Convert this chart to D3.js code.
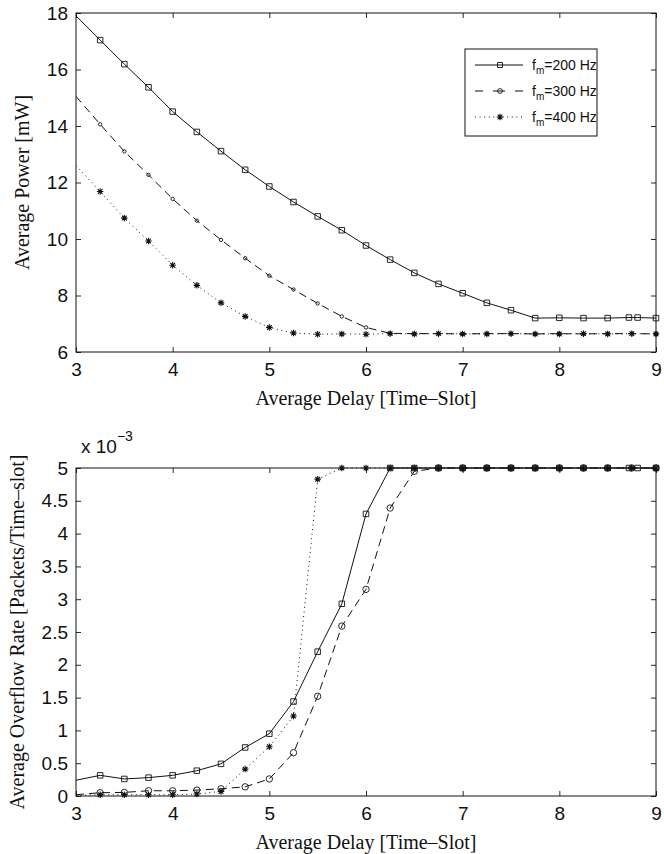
<!DOCTYPE html>
<html>
<head>
<meta charset="utf-8">
<script src="https://cdn.jsdelivr.net/npm/d3@7"></script>
<style>
  html, body { margin: 0; padding: 0; background: #fff; }
  svg { display: block; }
</style>
</head>
<body>
<svg id="fig" width="664" height="854"></svg>
<script>
// ---- data -------------------------------------------------------------
// average delay [time-slot] sample points
const delay = [3, 3.25, 3.5, 3.75, 4, 4.25, 4.5, 4.75, 5, 5.25, 5.5, 5.75, 6,
               6.25, 6.5, 6.75, 7, 7.25, 7.5, 7.75, 8, 8.25, 8.5, 8.75, 9];
// the f_m = 200 Hz run has two extra samples near the right end
const delay200 = [3, 3.25, 3.5, 3.75, 4, 4.25, 4.5, 4.75, 5, 5.25, 5.5, 5.75, 6,
                  6.25, 6.5, 6.75, 7, 7.25, 7.5, 7.75, 8, 8.25, 8.5, 8.72, 8.81, 9];

// average power [mW]
const power200 = [17.9, 17.04, 16.19, 15.37, 14.51, 13.79, 13.11, 12.45, 11.86, 11.31,
                  10.8, 10.31, 9.77, 9.27, 8.8, 8.41, 8.08, 7.74, 7.48, 7.2, 7.21, 7.2,
                  7.2, 7.22, 7.22, 7.2];
const power300 = [15.05, 14.06, 13.1, 12.27, 11.42, 10.65, 9.97, 9.32, 8.7, 8.21,
                  7.72, 7.26, 6.87, 6.66, 6.65, 6.65, 6.64, 6.65, 6.65, 6.64, 6.65,
                  6.64, 6.65, 6.65, 6.64];
const power400 = [12.6, 11.68, 10.74, 9.93, 9.07, 8.36, 7.74, 7.26, 6.87, 6.67,
                  6.63, 6.64, 6.63, 6.65, 6.64, 6.65, 6.64, 6.64, 6.65, 6.64, 6.64,
                  6.65, 6.64, 6.65, 6.64];

// average overflow rate [packets/time-slot], in units of 1e-3
const rate200 = [0.24, 0.315, 0.26, 0.28, 0.315, 0.386, 0.49, 0.74, 0.95, 1.44,
                 2.2, 2.93, 4.3, 5, 5, 5, 5, 5, 5, 5, 5, 5, 5, 5, 5, 5];
const rate300 = [0.02, 0.05, 0.055, 0.08, 0.08, 0.09, 0.11, 0.14, 0.26, 0.66,
                 1.52, 2.59, 3.15, 4.39, 4.95, 5, 5, 5, 5, 5, 5, 5, 5, 5, 5];
const rate400 = [0.01, 0.02, 0.02, 0.02, 0.02, 0.03, 0.07, 0.41, 0.75, 1.22,
                 4.83, 5, 5, 5, 5, 5, 5, 5, 5, 5, 5, 5, 5, 5, 5];

// tick labels
const delayTicks = [3, 4, 5, 6, 7, 8, 9];
const powerTicks = [6, 8, 10, 12, 14, 16, 18];
const rateTicks = [0, 0.5, 1, 1.5, 2, 2.5, 3, 3.5, 4, 4.5, 5];
const rateTickLabels = ["0", "0.5", "1", "1.5", "2", "2.5", "3", "3.5", "4", "4.5", "5"];

// legend: modulation frequencies f_m
const freqLabels = ["200 Hz", "300 Hz", "400 Hz"];

// ---- styling ----------------------------------------------------------
const SANS = "'Liberation Sans', Arial, Helvetica, sans-serif";
const SERIF = "'Liberation Serif', 'Times New Roman', serif";
const INK = "#111";
const TICK_FONT = 19;

const seriesStyle = [
  { dash: null,    marker: "square" },
  { dash: "8,5",   marker: "circle" },
  { dash: "1,3.6", marker: "star" }
];

const svg = d3.select("#fig");

// marker path generators (open markers, centred at origin)
function markerPath(kind, size) {
  if (kind === "square") {
    const h = size / 2;
    return `M${-h},${-h}H${h}V${h}H${-h}Z`;
  }
  if (kind === "star") {
    const r = size / 2, d = r * 0.72;
    return `M${-r},0H${r}M0,${-r}V${r}M${-d},${-d}L${d},${d}M${-d},${d}L${d},${-d}`;
  }
  return null;
}

function drawMarker(sel, kind, size) {
  if (kind === "circle") {
    sel.append("circle").attr("r", size / 2)
      .attr("fill", "none").attr("stroke", INK).attr("stroke-width", 0.9);
  } else {
    sel.append("path").attr("d", markerPath(kind, size))
      .attr("fill", "none").attr("stroke", INK)
      .attr("stroke-width", kind === "star" ? 1.1 : 0.9);
  }
}

// ---- one panel --------------------------------------------------------
function panel(cfg) {
  const { top, bottom, left, right } = cfg.box;
  const x = d3.scaleLinear().domain([3, 9]).range([left, right]);
  const y = d3.scaleLinear().domain(cfg.yDomain).range([bottom, top]);
  const g = svg.append("g");

  const clipId = cfg.id + "-clip";
  svg.append("defs").append("clipPath").attr("id", clipId)
    .append("rect").attr("x", left).attr("y", top - 1)
    .attr("width", right - left).attr("height", bottom - top + 2);

  // axes: inward ticks on all four sides
  const tl = 5;
  const axB = g.append("g").attr("transform", `translate(0,${bottom})`)
    .call(d3.axisBottom(x).tickValues(delayTicks).tickSize(-tl).tickPadding(11)
      .tickFormat(d3.format("d")));
  const axT = g.append("g").attr("transform", `translate(0,${top})`)
    .call(d3.axisTop(x).tickValues(delayTicks).tickSize(-tl).tickFormat(""));
  const axL = g.append("g").attr("transform", `translate(${left},0)`)
    .call(d3.axisLeft(y).tickValues(cfg.yTicks).tickSize(-tl).tickPadding(8)
      .tickFormat((d, i) => cfg.yTickLabels ? cfg.yTickLabels[i] : d));
  const axR = g.append("g").attr("transform", `translate(${right},0)`)
    .call(d3.axisRight(y).tickValues(cfg.yTicks).tickSize(-tl).tickFormat(""));

  [axB, axT, axL, axR].forEach(a => {
    a.select(".domain").remove();
    a.selectAll(".tick line").attr("stroke", INK).attr("stroke-width", 0.9);
    a.selectAll(".tick text").attr("fill", INK)
      .style("font-family", SANS).style("font-size", TICK_FONT + "px");
  });

  // frame
  g.append("rect").attr("x", left).attr("y", top)
    .attr("width", right - left).attr("height", bottom - top)
    .attr("fill", "none").attr("stroke", INK).attr("stroke-width", 1);

  // series
  cfg.series.forEach((s, i) => {
    const st = seriesStyle[i];
    const pts = s.x.map((xv, k) => [xv, s.y[k]]);
    const line = d3.line().x(d => x(d[0])).y(d => y(d[1]));
    g.append("path").datum(pts).attr("d", line)
      .attr("clip-path", `url(#${clipId})`)
      .attr("fill", "none").attr("stroke", INK).attr("stroke-width", 1)
      .attr("stroke-dasharray", st.dash);
    // the first sample sits on the left frame and carries no marker
    const mk = g.append("g").selectAll("g")
      .data(pts.filter(d => d[0] > x.domain()[0]))
      .join("g")
      .attr("transform", d => `translate(${x(d[0])},${y(d[1])})`);
    mk.each(function () { drawMarker(d3.select(this), st.marker, cfg.markerSize[i]); });
  });

  // axis titles
  g.append("text")
    .attr("x", (left + right) / 2).attr("y", bottom + 53)
    .attr("text-anchor", "middle")
    .style("font-family", SERIF).style("font-size", "20px").attr("fill", INK)
    .text("Average Delay [Time\u2013Slot]");
  g.append("text")
    .attr("transform", `translate(${cfg.yLabelX},${(top + bottom) / 2}) rotate(-90)`)
    .attr("text-anchor", "middle")
    .style("font-family", SERIF).style("font-size", "20px").attr("fill", INK)
    .text(cfg.yLabel);

  return { x, y, g };
}

// ---- top: average power ----------------------------------------------
panel({
  id: "power",
  box: { top: 13, bottom: 352, left: 76, right: 656 },
  yDomain: [6, 18],
  yTicks: powerTicks,
  yLabel: "Average Power [mW]",
  yLabelX: 29,
  markerSize: [5.5, 3.4, 6.5],
  series: [
    { x: delay200, y: power200 },
    { x: delay, y: power300 },
    { x: delay, y: power400 }
  ]
});

// legend
(function legend() {
  const lx = 465, ly = 49, lw = 132, lh = 87;
  const lg = svg.append("g");
  lg.append("rect").attr("x", lx).attr("y", ly).attr("width", lw).attr("height", lh)
    .attr("fill", "#fff").attr("stroke", INK).attr("stroke-width", 1);
  const markerSizes = [5, 4.8, 6.5];
  freqLabels.forEach((lab, i) => {
    const cy = ly + 16 + i * 26;
    const st = seriesStyle[i];
    lg.append("path").attr("d", `M${lx + 10},${cy}H${lx + 58}`)
      .attr("fill", "none").attr("stroke", INK).attr("stroke-width", 1)
      .attr("stroke-dasharray", st.dash === "8,5" ? "8,10,12,10" : st.dash);
    const m = lg.append("g").attr("transform", `translate(${lx + 35},${cy})`);
    drawMarker(m, st.marker, markerSizes[i]);
    const t = lg.append("text").attr("x", lx + 67).attr("y", cy + 5)
      .style("font-family", SANS).style("font-size", "14px").attr("fill", INK);
    t.append("tspan").text("f");
    t.append("tspan").attr("dy", 4).style("font-size", "10px").text("m");
    t.append("tspan").attr("dy", -4).text("=" + lab);
  });
})();

// ---- bottom: average overflow rate -----------------------------------
panel({
  id: "rate",
  box: { top: 468, bottom: 796, left: 76, right: 656 },
  yDomain: [0, 5],
  yTicks: rateTicks,
  yTickLabels: rateTickLabels,
  yLabel: "Average Overflow Rate [Packets/Time\u2013slot]",
  yLabelX: 24,
  markerSize: [5.5, 6.4, 6.5],
  series: [
    { x: delay200, y: rate200 },
    { x: delay, y: rate300 },
    { x: delay, y: rate400 }
  ]
});

// exponent label of the rate axis
const expo = svg.append("text").attr("x", 81).attr("y", 453)
  .style("font-family", SANS).style("font-size", "19px").attr("fill", INK);
expo.append("tspan").text("x 10");
expo.append("tspan").attr("dy", -12).style("font-size", "14px").text("\u22123");
</script>
</body>
</html>
